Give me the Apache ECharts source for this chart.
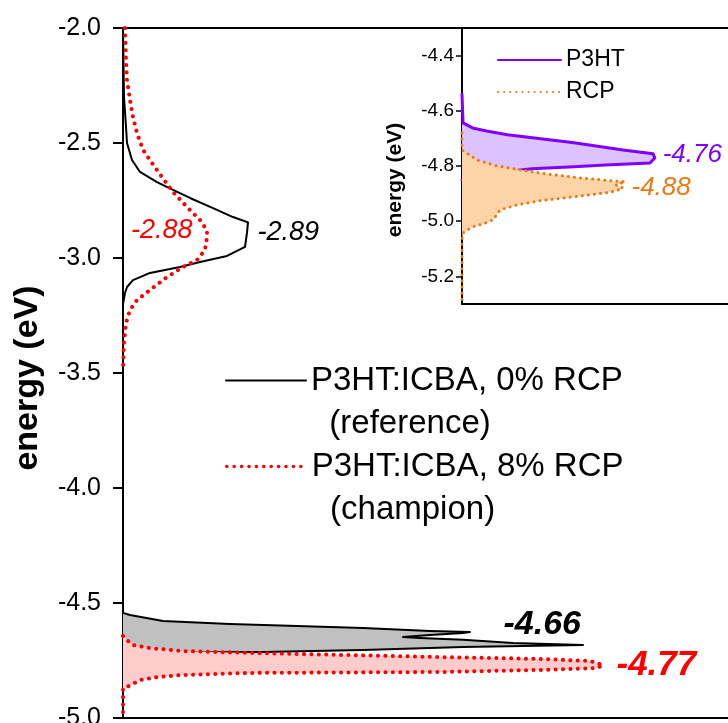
<!DOCTYPE html>
<html>
<head>
<meta charset="utf-8">
<title>Density of states – P3HT:ICBA with RCP</title>
<script src="https://cdn.jsdelivr.net/npm/echarts@6/dist/echarts.min.js"></script>
<style>
  html, body { margin: 0; padding: 0; background: #fff; }
  #chart { width: 728px; height: 723px; }
</style>
</head>
<body>
<div id="chart"></div>
<script>
// ---- Energy axes (eV) ----
const mainEnergyRange = [-5.0, -2.0];
const mainTickStep = 0.5;
const insetEnergyRange = [-5.3, -4.3];
const insetTicks = [-5.2, -5.0, -4.8, -4.6, -4.4];

// ---- DOS axes (arb. units), visible part of each panel ----
const mainDosMax = 1.21;
const insetDosMax = 0.76;

// ---- Series names ----
const refName = 'P3HT:ICBA, 0% RCP\n  (reference)';
const champName = 'P3HT:ICBA, 8% RCP\n  (champion)';
const p3htName = 'P3HT';
const rcpName = 'RCP';

// ---- Main panel: DOS (arb. units) vs energy (eV), pairs are [DOS, E] ----
const refLumo = [
  [0, -2.0], [0.002, -2.3], [0.006, -2.43], [0.008, -2.5], [0.018, -2.574],
  [0.034, -2.626], [0.068, -2.67], [0.10, -2.704], [0.134, -2.739], [0.18, -2.783],
  [0.22, -2.822], [0.25, -2.845], [0.248, -2.89], [0.244, -2.952], [0.208, -2.991],
  [0.154, -3.017], [0.114, -3.039], [0.054, -3.065], [0.02, -3.096], [0.008, -3.126],
  [0.004, -3.152], [0, -3.2]
];
const refHomo = [
  [0, -4.543], [0.014, -4.552], [0.08, -4.578], [0.214, -4.591], [0.348, -4.600],
  [0.48, -4.609], [0.614, -4.622], [0.694, -4.626], [0.68, -4.630], [0.614, -4.639],
  [0.56, -4.648], [0.594, -4.652], [0.68, -4.66], [0.78, -4.674], [0.92, -4.683],
  [0.68, -4.691], [0.48, -4.704], [0.28, -4.713], [0.148, -4.714], [0.06, -4.72],
  [0, -4.73]
];
const champLumo = [
  [0.004, -2.0], [0.006, -2.139], [0.008, -2.226], [0.014, -2.313], [0.02, -2.387],
  [0.028, -2.457], [0.04, -2.53], [0.058, -2.587], [0.078, -2.648], [0.10, -2.713],
  [0.128, -2.778], [0.154, -2.835], [0.168, -2.88], [0.168, -2.909], [0.164, -2.965],
  [0.148, -3.009], [0.12, -3.039], [0.088, -3.083], [0.054, -3.139], [0.028, -3.183],
  [0.014, -3.226], [0.006, -3.283], [0.002, -3.37], [0, -3.478]
];
const champHomo = [
  [0, -4.643], [0.008, -4.661], [0.02, -4.683], [0.054, -4.696], [0.12, -4.709],
  [0.254, -4.717], [0.634, -4.735], [0.834, -4.743], [0.934, -4.752], [0.96, -4.77],
  [0.948, -4.783], [0.834, -4.791], [0.634, -4.80], [0.254, -4.804], [0.12, -4.813],
  [0.068, -4.822], [0.034, -4.835], [0.008, -4.865], [0, -4.87], [0, -5.0]
];

// ---- Inset: HOMO DOS of the neat materials ----
const p3htHomo = [
  [0, -4.54], [0.003, -4.644], [0.03, -4.662], [0.07, -4.673], [0.13, -4.687],
  [0.32, -4.716], [0.46, -4.742], [0.546, -4.756], [0.549, -4.76], [0.551, -4.771],
  [0.537, -4.789], [0.41, -4.796], [0.32, -4.803], [0.2, -4.81], [0.06, -4.83],
  [0, -4.85]
];
const rcpHomo = [
  [0, -4.68], [0, -4.742], [0.043, -4.778], [0.10, -4.80], [0.166, -4.814],
  [0.243, -4.829], [0.337, -4.843], [0.431, -4.854], [0.466, -4.857], [0.44, -4.868],
  [0.46, -4.88], [0.44, -4.89], [0.414, -4.897], [0.317, -4.912], [0.223, -4.926],
  [0.157, -4.941], [0.109, -4.959], [0.089, -4.995], [0.06, -5.01], [0.031, -5.02],
  [0.003, -5.042], [0, -5.067], [0, -5.3]
];

// ---- Energies of the labelled peaks (eV) ----
const refLumoPeak = -2.89;
const champLumoPeak = -2.88;
const refHomoPeak = -4.66;
const champHomoPeak = -4.77;
const p3htPeak = -4.76;
const rcpPeak = -4.88;

const FONT = '"Liberation Sans", Arial, Helvetica, sans-serif';

// axis indices of the two panels
const MAIN = { x: 0, y: 0 };
const INSET = { x: 2, y: 1 };

function peakPoint(curve, energy) {
  return curve.find(function (p) { return p[1] === energy; });
}

// Filled area between a DOS curve and the energy axis
function fillSeries(points, color, axes, z) {
  return {
    type: 'custom',
    xAxisIndex: axes.x,
    yAxisIndex: axes.y,
    silent: true,
    z: z,
    data: [points[0]],
    renderItem: function (params, api) {
      return {
        type: 'polygon',
        shape: { points: points.map(function (p) { return api.coord(p); }) },
        style: { fill: color }
      };
    }
  };
}

function curveSeries(name, points, color, width, dash, axes, z) {
  return {
    type: 'line',
    name: name,
    xAxisIndex: axes.x,
    yAxisIndex: axes.y,
    data: points,
    symbol: 'none',
    silent: true,
    z: z,
    lineStyle: { color: color, width: width, type: dash || 'solid', cap: 'round', join: 'round' },
    itemStyle: { color: color }
  };
}

function peakLabel(point, color, opts) {
  return {
    value: point,
    label: Object.assign({
      show: true,
      color: color,
      fontFamily: FONT,
      fontStyle: 'italic',
      formatter: function (p) { return p.value[1].toFixed(2); }
    }, opts)
  };
}

// frame line along the top or bottom of a panel
function frameAxis(gridIdx, position, max) {
  return {
    type: 'value', gridIndex: gridIdx, position: position, min: 0, max: max,
    axisLine: { show: true, onZero: false, lineStyle: { color: '#000', width: 2 } },
    axisTick: { show: false }, axisLabel: { show: false }, splitLine: { show: false }
  };
}

// main legend: an empty first line keeps the key line level with the name
function mainLegend(name, top, keyWidth) {
  return {
    data: [name], left: 225, top: top, orient: 'vertical', padding: 0,
    itemWidth: 80, itemHeight: 1, selectedMode: false,
    itemStyle: { opacity: 0 },
    lineStyle: { width: keyWidth },
    formatter: function (n) { return '\n' + n; },
    textStyle: { fontFamily: FONT, fontSize: 33, color: '#000', lineHeight: 43 }
  };
}

function insetLegend(name, top) {
  return {
    data: [name], left: 497, top: top, padding: 0,
    itemWidth: 63, itemHeight: 1, selectedMode: false,
    itemStyle: { opacity: 0 },
    textStyle: { fontFamily: FONT, fontSize: 23, color: '#000', lineHeight: 26 }
  };
}

const redDots = [0.1, 7.3];
const orangeDots = [0.1, 6];

const chart = echarts.init(document.getElementById('chart'), null, { renderer: 'canvas' });

chart.setOption({
  animation: false,
  backgroundColor: '#fff',
  grid: [
    { left: 123, top: 28, width: 605, height: 690, outerBoundsMode: 'none', containLabel: false },
    { left: 462, top: 28, width: 266, height: 276, outerBoundsMode: 'none', containLabel: false }
  ],
  xAxis: [
    frameAxis(0, 'bottom', mainDosMax),
    frameAxis(0, 'top', mainDosMax),
    frameAxis(1, 'bottom', insetDosMax),
    frameAxis(1, 'top', insetDosMax)
  ],
  yAxis: [
    {
      type: 'value', gridIndex: 0,
      min: mainEnergyRange[0], max: mainEnergyRange[1], interval: mainTickStep,
      name: 'energy (eV)', nameLocation: 'middle', nameGap: 78,
      nameTextStyle: { fontFamily: FONT, fontSize: 34, fontWeight: 'bold', color: '#000', padding: [0, 10, 0, 0] },
      axisLine: { show: true, onZero: false, lineStyle: { color: '#000', width: 2 } },
      axisTick: { show: true, length: 10, lineStyle: { color: '#000', width: 2 } },
      axisLabel: { fontFamily: FONT, fontSize: 25, color: '#000', margin: 22, formatter: function (v) { return v.toFixed(1); } },
      splitLine: { show: false }
    },
    {
      type: 'value', gridIndex: 1,
      min: insetEnergyRange[0], max: insetEnergyRange[1],
      name: 'energy (eV)', nameLocation: 'middle', nameGap: 56,
      nameTextStyle: { fontFamily: FONT, fontSize: 21, fontWeight: 'bold', color: '#000', padding: [0, 28, 0, 0] },
      axisLine: { show: true, onZero: false, lineStyle: { color: '#000', width: 2 } },
      axisTick: { show: true, length: 6, customValues: insetTicks, lineStyle: { color: '#000', width: 1.5 } },
      axisLabel: { fontFamily: FONT, fontSize: 19, color: '#000', margin: 8, customValues: insetTicks, formatter: function (v) { return v.toFixed(1); } },
      splitLine: { show: false }
    }
  ],
  legend: [
    mainLegend(refName, 316, 2),
    mainLegend(champName, 402, 3.5),
    insetLegend(p3htName, 47),
    insetLegend(rcpName, 79)
  ],
  series: [
    // main panel: each fill covers the curves drawn before it
    fillSeries(refHomo, '#c0c0c0', MAIN, 2),
    curveSeries(refName, refLumo, '#000', 2, 'solid', MAIN, 3),
    curveSeries(refName, refHomo, '#000', 2, 'solid', MAIN, 3),
    fillSeries(champHomo, '#ffcccc', MAIN, 4),
    curveSeries(champName, champLumo, '#ff0000', 4, redDots, MAIN, 5),
    curveSeries(champName, champHomo, '#ff0000', 4, redDots, MAIN, 5),
    // inset
    fillSeries(p3htHomo, '#dcc2ff', INSET, 2),
    curveSeries(p3htName, p3htHomo, '#8000ff', 3, 'solid', INSET, 3),
    fillSeries(rcpHomo, '#fdd3a8', INSET, 4),
    curveSeries(rcpName, rcpHomo, '#ec7a12', 3, orangeDots, INSET, 5),
    // peak annotations
    {
      type: 'scatter', xAxisIndex: MAIN.x, yAxisIndex: MAIN.y, silent: true, z: 10,
      symbolSize: 1, itemStyle: { color: 'rgba(0,0,0,0)', opacity: 1 },
      data: [
        peakLabel(peakPoint(refLumo, refLumoPeak), '#000', { position: 'right', distance: 10, fontSize: 27 }),
        peakLabel(peakPoint(champLumo, champLumoPeak), '#ff0000', { position: 'left', distance: 14, fontSize: 27 }),
        peakLabel(peakPoint(refHomo, refHomoPeak), '#000', { position: 'right', distance: 40, offset: [0, -15], fontSize: 34, fontWeight: 'bold' }),
        peakLabel(peakPoint(champHomo, champHomoPeak), '#ff0000', { position: 'right', distance: 13, fontSize: 35, fontWeight: 'bold' })
      ]
    },
    {
      type: 'scatter', xAxisIndex: INSET.x, yAxisIndex: INSET.y, silent: true, z: 10,
      symbolSize: 1, itemStyle: { color: 'rgba(0,0,0,0)', opacity: 1 },
      data: [
        peakLabel(peakPoint(p3htHomo, p3htPeak), '#8000ff', { position: 'right', distance: 8, fontSize: 26 }),
        peakLabel(peakPoint(rcpHomo, rcpPeak), '#ec7a12', { position: 'right', distance: 8, fontSize: 26 })
      ]
    }
  ]
});
</script>
</body>
</html>
